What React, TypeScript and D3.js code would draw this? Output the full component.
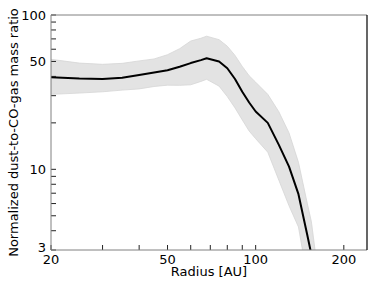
import React from "react";
import * as d3 from "d3";

const radius = [20, 25, 30, 35, 40, 45, 50, 55, 60, 65, 68, 75, 80, 85, 90, 95, 100, 110, 120, 130, 140, 150, 155, 160];
const ratio = [39.5, 38.7, 38.5, 39.2, 40.8, 42.4, 43.8, 46.2, 48.8, 51.0, 52.4, 49.9, 45.2, 38.5, 31.8, 27.1, 23.7, 20.0, 14.4, 10.4, 6.9, 3.77, 2.8, 2.3];
const upper = [51.6, 48.8, 47.9, 48.6, 50.4, 51.9, 55.3, 60.5, 67.8, 70.7, 72.9, 69.2, 62.8, 54.7, 46.4, 40.4, 36.7, 30.6, 23.6, 17.2, 11.1, 6.04, 4.57, 2.87];
const lower = [30.6, 31.2, 31.8, 32.6, 33.2, 34.4, 35.1, 35.0, 35.3, 37.1, 38.3, 34.6, 29.6, 25.0, 20.9, 17.7, 15.8, 12.9, 8.5, 5.8, 4.23, 2.0, 1.8, 1.6];

const xTicks = [20, 30, 40, 50, 60, 70, 80, 90, 100, 200];
const xTickLabels = [20, 50, 100, 200];
const yTicks = [3, 4, 5, 6, 7, 8, 9, 10, 20, 30, 40, 50, 60, 70, 80, 90, 100];
const yTickLabels = [3, 10, 50, 100];

const W = 374, H = 290;
const L = 51, R = 367, T = 15, B = 250;

export default function App() {
  const x = d3.scaleLog().domain([20, 240]).range([L, R]);
  const y = d3.scaleLog().domain([3, 100]).range([B, T]);
  const pts = radius.map((r, i) => ({ r, v: ratio[i], hi: upper[i], lo: lower[i] }));
  const area = d3.area<any>().x(d => x(d.r)).y0(d => y(d.lo)).y1(d => y(d.hi));
  const line = d3.line<any>().x(d => x(d.r)).y(d => y(d.v));
  const font = "DejaVu Sans";
  const tl = 5;
  return (
    <svg width={W} height={H} style={{ position: "absolute", left: 0, top: 0, background: "#fff" }} fontFamily={font}>
      <defs>
        <clipPath id="clip"><rect x={L} y={T} width={R - L} height={B - T} /></clipPath>
      </defs>
      <g clipPath="url(#clip)">
        <path d={area(pts) || ""} fill="#e3e3e3" stroke="#d6d6d6" strokeWidth={0.8} />
        <path d={line(pts) || ""} fill="none" stroke="#000" strokeWidth={2} strokeLinejoin="round" />
      </g>
      {xTicks.map(t => (
        <line key={"xt" + t} x1={x(t)} x2={x(t)} y1={B} y2={B - tl} stroke="#222" strokeWidth={1} />
      ))}
      {yTicks.map(t => (
        <line key={"yt" + t} x1={L} x2={L + tl} y1={y(t)} y2={y(t)} stroke="#222" strokeWidth={1} />
      ))}
      <line x1={L} x2={R} y1={T} y2={T} stroke="#808080" strokeWidth={1} />
      <line x1={L} x2={R} y1={B} y2={B} stroke="#808080" strokeWidth={1} />
      <line x1={L} x2={L} y1={T} y2={B} stroke="#808080" strokeWidth={1} />
      <line x1={R} x2={R} y1={T} y2={B} stroke="#000" strokeWidth={1.2} />
      {xTickLabels.map(t => (
        <text key={"xl" + t} x={x(t)} y={B + 14} fontSize={13} textAnchor="middle">{t}</text>
      ))}
      {yTickLabels.map(t => (
        <text key={"yl" + t} x={L - 5} y={t === 3 ? y(t) - 3 : y(t)} fontSize={13} textAnchor="end" dominantBaseline="central">{t}</text>
      ))}
      <text x={(L + R) / 2} y={276} fontSize={13} textAnchor="middle">Radius [AU]</text>
      <text transform={`translate(18,${(T + B) / 2}) rotate(-90)`} fontSize={13} textAnchor="middle">Normalized dust-to-CO-gas mass ratio</text>
    </svg>
  );
}
